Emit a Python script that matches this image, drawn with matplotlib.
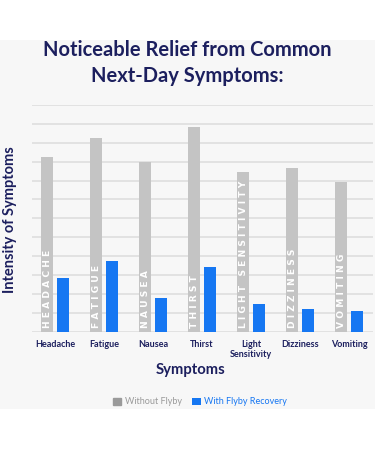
import matplotlib.pyplot as plt
from matplotlib.patches import Rectangle
import numpy as np

plt.rcParams['font.family'] = ['Lato', 'DejaVu Sans']

symptoms = ['Headache', 'Fatigue', 'Nausea', 'Thirst', 'Light\nSensitivity', 'Dizziness', 'Vomiting']
bar_labels = ['HEADACHE', 'FATIGUE', 'NAUSEA', 'THIRST', 'LIGHT SENSITIVITY', 'DIZZINESS', 'VOMITING']
without_flyby = [9.25, 10.25, 9.0, 10.85, 8.45, 8.65, 7.9]
with_flyby = [2.85, 3.75, 1.8, 3.4, 1.45, 1.2, 1.1]

navy = '#1c1f5e'
gray = '#c4c4c4'
blue = '#1677f2'

fig = plt.figure(figsize=(3.75, 4.5), dpi=100)
fig.patch.set_facecolor('white')
# light panel behind the chart
panel = Rectangle((0, 41 / 450), 1, 369 / 450, transform=fig.transFigure,
                  facecolor='#f7f7f7', edgecolor='none', zorder=-10)
fig.add_artist(panel)

ax = fig.add_axes([32 / 375, 1 - 331.7 / 450, 341 / 375, 226.7 / 450])
ax.set_facecolor('none')
ax.set_zorder(2)

x = np.arange(len(symptoms))
w = 0.245
off = 0.163
ax.bar(x - off, without_flyby, w, color=gray, zorder=3, label='Without Flyby')
ax.bar(x + off, with_flyby, w, color=blue, zorder=3, label='With Flyby Recovery')

# spaced-out labels inside the grey bars
for i, lab in enumerate(bar_labels):
    ax.text(x[i] - off + 0.01, 0.22, ' '.join(lab), rotation=90, ha='center', va='bottom',
            color='white', fontsize=6.6, fontweight='bold', family='DejaVu Sans', zorder=4)

ax.set_xlim(-0.47, 6.49)
ax.set_ylim(0, 12)
ax.set_yticks(range(13))
ax.set_yticklabels([])
ax.tick_params(axis='both', length=0)
ax.yaxis.grid(True, color='#dcdcdc', linewidth=1.1, zorder=0)
ax.set_axisbelow(True)
for s in ax.spines.values():
    s.set_visible(False)

ax.set_xticks(x)
ax.set_xticklabels(symptoms, fontsize=6.5, color=navy, fontweight='bold', linespacing=1.1)
ax.tick_params(axis='x', pad=6)

fig.text(0.5, 1 - 63 / 450, 'Noticeable Relief from Common\nNext-Day Symptoms:',
         ha='center', va='center', fontsize=14.5, color=navy, fontweight='bold',
         linespacing=1.4)
fig.text(10 / 375, 1 - 220 / 450, 'Intensity of Symptoms', rotation=90,
         ha='center', va='center', fontsize=10.5, color=navy, fontweight='bold')
fig.text(191 / 375, 1 - 370 / 450, 'Symptoms', ha='center', va='center',
         fontsize=10.7, color=navy, fontweight='bold')

leg = fig.legend(loc='center', bbox_to_anchor=(200 / 375, 1 - 402 / 450), ncol=2,
                 frameon=False, fontsize=6.5, handlelength=0.9, handleheight=0.9,
                 handletextpad=0.4, columnspacing=1.2)
leg.legend_handles[0].set_color('#9a9a9a')
leg.get_texts()[0].set_color('#9a9a9a')
leg.get_texts()[1].set_color(blue)

fig.savefig('out.png', dpi=100)
